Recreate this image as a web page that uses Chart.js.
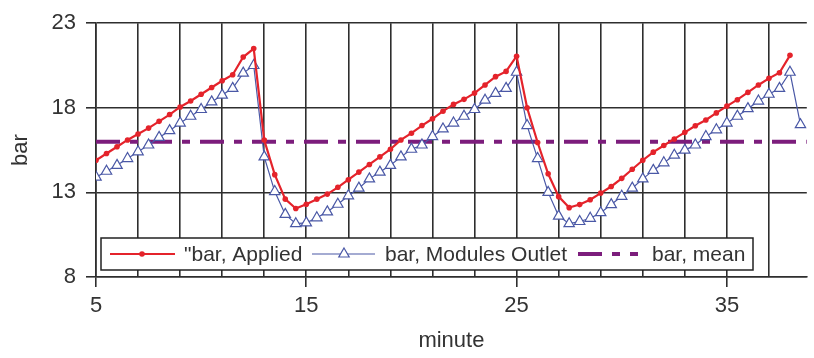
<!DOCTYPE html>
<html>
<head>
<meta charset="utf-8">
<script src="https://cdn.jsdelivr.net/npm/chart.js@4.4.1/dist/chart.umd.min.js"></script>
<style>
  html, body { margin: 0; padding: 0; background: #fff; }
  #wrap { width: 814px; height: 358px; }
</style>
</head>
<body>
<div id="wrap"><canvas id="pressureChart" width="814" height="358"></canvas></div>
<script>
// sample times (minute), one reading every half minute
const minutes = [
    5, 5.5, 6, 6.5, 7, 7.5, 8, 8.5, 9, 9.5, 10, 10.5, 11, 11.5, 12, 12.5,
    13, 13.5, 14, 14.5, 15, 15.5, 16, 16.5, 17, 17.5, 18, 18.5, 19, 19.5, 20, 20.5,
    21, 21.5, 22, 22.5, 23, 23.5, 24, 24.5, 25, 25.5, 26, 26.5, 27, 27.5, 28, 28.5,
    29, 29.5, 30, 30.5, 31, 31.5, 32, 32.5, 33, 33.5, 34, 34.5, 35, 35.5, 36, 36.5,
    37, 37.5, 38, 38.5
];

// applied pressure (bar)
const barApplied = [
    14.9, 15.3, 15.7, 16.1, 16.45, 16.8, 17.2, 17.6, 18.05, 18.4, 18.8, 19.2, 19.6, 19.95, 21.0, 21.5,
    16.1, 14.05, 12.6, 12.05, 12.3, 12.6, 12.9, 13.3, 13.75, 14.2, 14.65, 15.1, 15.55, 16.1, 16.5, 16.95,
    17.35, 17.8, 18.2, 18.5, 18.87, 19.35, 19.84, 20.15, 21.05, 18.0, 15.95, 14.1, 12.75, 12.1, 12.28, 12.57,
    12.96, 13.35, 13.83, 14.37, 14.9, 15.38, 15.77, 16.16, 16.55, 16.94, 17.28, 17.7, 18.1, 18.48, 18.91, 19.35,
    19.74, 20.07, 21.1, null
];

// modules outlet pressure (bar)
const barOutlet = [
    13.9, 14.25, 14.6, 15.0, 15.4, 15.8, 16.25, 16.65, 17.1, 17.5, 17.9, 18.35, 18.75, 19.15, 20.05, 20.5,
    15.1, 13.05, 11.7, 11.15, 11.2, 11.5, 11.85, 12.3, 12.8, 13.25, 13.8, 14.2, 14.6, 15.1, 15.55, 15.8,
    16.3, 16.75, 17.1, 17.5, 17.9, 18.45, 18.85, 19.15, 20.1, 16.95, 15.0, 13.0, 11.6, 11.15, 11.28, 11.47,
    11.8, 12.28, 12.77, 13.25, 13.8, 14.3, 14.75, 15.2, 15.5, 15.8, 16.3, 16.7, 17.1, 17.5, 17.95, 18.4,
    18.8, 19.15, 20.1, 17.0
];

const barMean = 16.0;

// axes
const xMin = 5;
const xMax = 38.8;
const gridMinutes = [5, 7, 9, 11, 13, 15, 17, 19, 21, 23, 25, 27, 29, 31, 33, 35, 37];
const labelMinutes = [5, 15, 25, 35];
const barTicks = [8, 13, 18, 23];

const RED = '#e4232b';
const BLUE = '#4a58a6';
const PURPLE = '#7c1d7c';
const GRID = '#2e2e2e';
const TEXT = '#333333';

Chart.defaults.font.family = '"Liberation Sans", Arial, sans-serif';
Chart.defaults.color = TEXT;

const pairs = (ys) => minutes.map((m, i) => ({ x: m, y: ys[i] }));

// legend drawn as a framed box inside the plot, over the grid
const legendBox = {
    id: 'legendBox',
    afterDraw(chart) {
        const ctx = chart.ctx;
        const top = 238, h = 32, cy = top + h / 2;
        ctx.save();
        ctx.fillStyle = '#fff';
        ctx.fillRect(101, top, 652, h);
        ctx.strokeStyle = '#222';
        ctx.lineWidth = 1.5;
        ctx.strokeRect(101, top, 652, h);

        // applied
        ctx.strokeStyle = RED;
        ctx.lineWidth = 2.2;
        ctx.beginPath(); ctx.moveTo(110, cy); ctx.lineTo(175, cy); ctx.stroke();
        ctx.fillStyle = RED;
        ctx.beginPath(); ctx.arc(142, cy, 2.8, 0, Math.PI * 2); ctx.fill();

        // outlet
        ctx.strokeStyle = BLUE;
        ctx.lineWidth = 1.2;
        ctx.beginPath(); ctx.moveTo(312, cy); ctx.lineTo(375, cy); ctx.stroke();
        ctx.fillStyle = '#fff';
        ctx.beginPath();
        ctx.moveTo(344, cy - 6);
        ctx.lineTo(344 + 5.2, cy + 3);
        ctx.lineTo(344 - 5.2, cy + 3);
        ctx.closePath();
        ctx.fill(); ctx.stroke();

        // mean
        ctx.strokeStyle = PURPLE;
        ctx.lineWidth = 4;
        ctx.setLineDash([24, 10, 8, 10]);
        ctx.beginPath(); ctx.moveTo(578, cy); ctx.lineTo(638, cy); ctx.stroke();
        ctx.setLineDash([]);

        ctx.fillStyle = TEXT;
        ctx.font = '21px "Liberation Sans", Arial, sans-serif';
        ctx.textBaseline = 'middle';
        ctx.fillText('"bar, Applied', 184, cy + 1);
        ctx.fillText('bar, Modules Outlet', 385, cy + 1);
        ctx.fillText('bar, mean', 652, cy + 1);
        ctx.restore();
    }
};

const ctx = document.getElementById('pressureChart').getContext('2d');
new Chart(ctx, {
    type: 'line',
    data: {
        datasets: [
            {
                label: '"bar, Applied',
                data: pairs(barApplied),
                borderColor: RED,
                backgroundColor: RED,
                borderWidth: 2.2,
                pointRadius: 2.8,
                pointBorderWidth: 0,
                tension: 0
            },
            {
                label: 'bar, Modules Outlet',
                data: pairs(barOutlet),
                borderColor: BLUE,
                backgroundColor: '#fff',
                borderWidth: 1.2,
                pointStyle: 'triangle',
                pointRadius: 6,
                pointBorderWidth: 1.2,
                tension: 0
            },
            {
                label: 'bar, mean',
                data: [{ x: xMin, y: barMean }, { x: xMax, y: barMean }],
                borderColor: PURPLE,
                borderWidth: 4,
                borderDash: [24, 10, 8, 10],
                pointRadius: 0
            }
        ]
    },
    options: {
        responsive: false,
        animation: false,
        layout: { padding: { top: 18, right: 0, left: 0, bottom: 0 } },
        plugins: {
            legend: { display: false },
            tooltip: { enabled: false }
        },
        scales: {
            x: {
                type: 'linear',
                min: xMin,
                max: xMax,
                afterBuildTicks: (scale) => { scale.ticks = gridMinutes.map(v => ({ value: v })); },
                afterFit: (scale) => { scale.height = 81; },
                grid: {
                    color: GRID,
                    lineWidth: 1.6,
                    tickLength: 10,
                    tickColor: (c) => labelMinutes.includes(c.tick && c.tick.value) ? GRID : 'rgba(0,0,0,0)'
                },
                border: { color: GRID, width: 1.6 },
                ticks: {
                    autoSkip: false,
                    maxRotation: 0,
                    padding: 6,
                    font: { size: 22 },
                    callback: (v) => labelMinutes.includes(v) ? String(v) : ''
                },
                title: {
                    display: true,
                    text: 'minute',
                    font: { size: 22 },
                    padding: { top: 0, bottom: 4 }
                }
            },
            y: {
                min: 8,
                max: 23,
                afterBuildTicks: (scale) => { scale.ticks = barTicks.map(v => ({ value: v })); },
                afterFit: (scale) => { scale.width = 96; },
                grid: { color: GRID, lineWidth: 1.6, tickLength: 10 },
                border: { color: GRID, width: 1.6 },
                ticks: { padding: 10, font: { size: 22 } },
                title: {
                    display: true,
                    text: 'bar',
                    font: { size: 22 },
                    padding: { top: 8, bottom: 0 }
                }
            }
        }
    },
    plugins: [legendBox]
});
</script>
</body>
</html>
